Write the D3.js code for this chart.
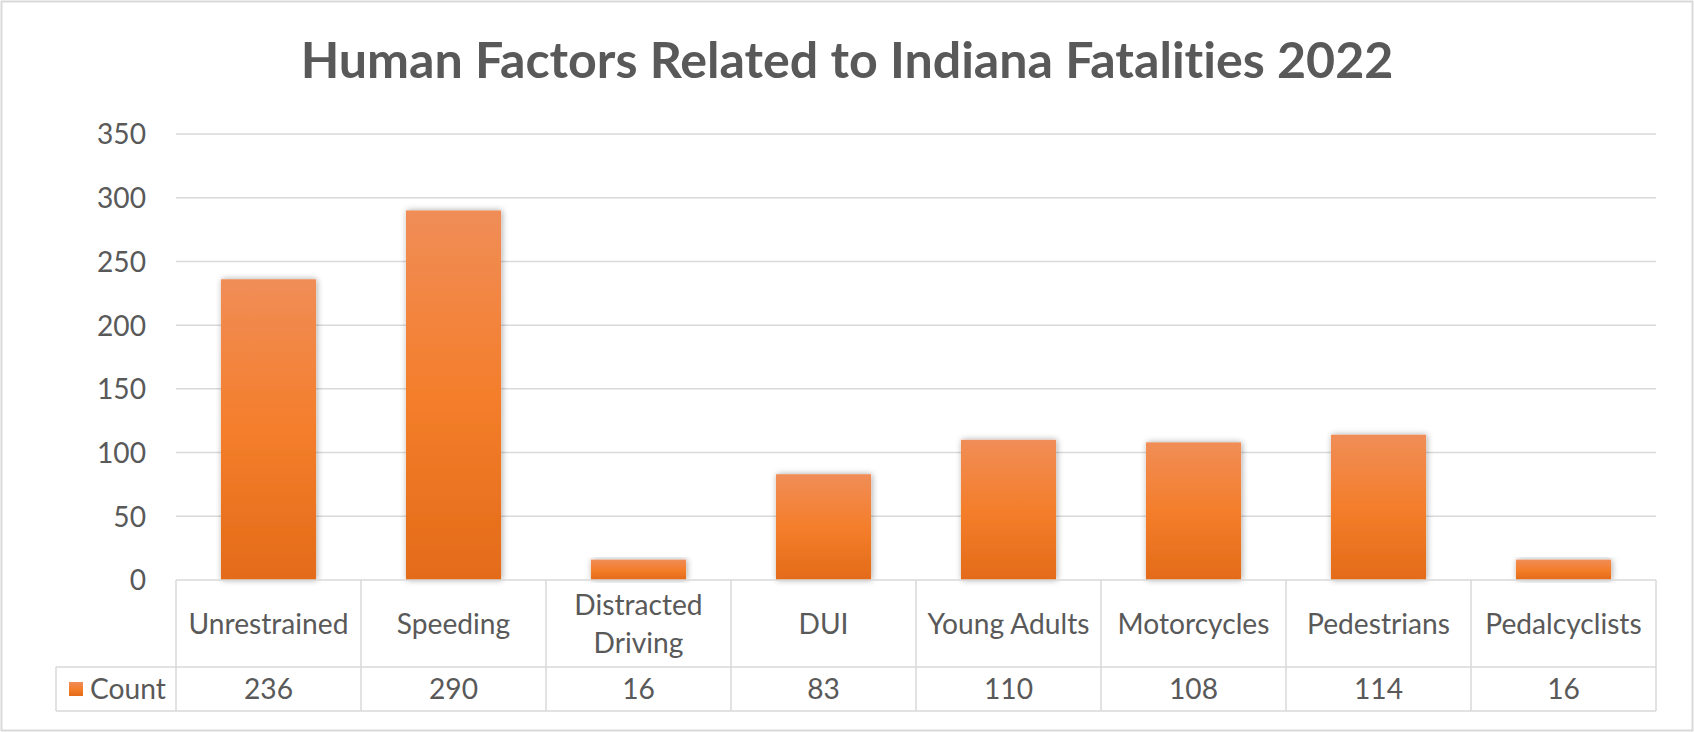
<!DOCTYPE html>
<html>
<head>
<meta charset="utf-8">
<script src="https://cdn.jsdelivr.net/npm/d3@7"></script>
<style>
  html, body { margin: 0; padding: 0; background: #fff; }
  svg { display: block; }
  text { font-family: Lato, "Open Sans", sans-serif; fill: #595959; font-variant-ligatures: none; font-feature-settings: "liga" 0; }
</style>
</head>
<body>
<svg id="chart" width="1694" height="732"></svg>
<script>
// ---- data ----
const title = "Human Factors Related to Indiana Fatalities 2022";
const categories = ["Unrestrained", "Speeding", "Distracted Driving", "DUI", "Young Adults", "Motorcycles", "Pedestrians", "Pedalcyclists"];
const categoryLines = [["Unrestrained"], ["Speeding"], ["Distracted", "Driving"], ["DUI"], ["Young Adults"], ["Motorcycles"], ["Pedestrians"], ["Pedalcyclists"]];
const seriesName = "Count";
const counts = [236, 290, 16, 83, 110, 108, 114, 16];
const yTicks = [0, 50, 100, 150, 200, 250, 300, 350];

// ---- layout ----
const W = 1694, H = 732;
const plotLeft = 176, plotRight = 1656, plotTop = 134, plotBottom = 580;
const rowSplit = 667, tableBottom = 711, legendLeft = 56;
const lineColor = "#d9d9d9";

const svg = d3.select("#chart");

// gradient + shadow
const defs = svg.append("defs");
const grad = defs.append("linearGradient").attr("id", "barGrad").attr("x1", 0).attr("y1", 0).attr("x2", 0).attr("y2", 1);
grad.append("stop").attr("offset", "0%").attr("stop-color", "#f08d57");
grad.append("stop").attr("offset", "50%").attr("stop-color", "#f47e2b");
grad.append("stop").attr("offset", "100%").attr("stop-color", "#e36b19");
const f = defs.append("filter").attr("id", "shadow").attr("x", "-30%").attr("y", "-10%").attr("width", "160%").attr("height", "120%");
f.append("feDropShadow").attr("dx", 1).attr("dy", 0).attr("stdDeviation", 3).attr("flood-color", "#000").attr("flood-opacity", 0.35);

// outer frame
svg.append("rect").attr("x", 1.5).attr("y", 1.5).attr("width", W - 3).attr("height", H - 3)
  .attr("fill", "#fff").attr("stroke", lineColor).attr("stroke-width", 2);

// font fitting helper
function fitSize(str, weight, target) {
  const t = svg.append("text").attr("font-size", 100).attr("font-weight", weight).text(str);
  const w = t.node().getComputedTextLength();
  t.remove();
  return 100 * target / w;
}
const titleSize = fitSize(title, "bold", 1093);
const labelSize = fitSize("Unrestrained", "normal", 160);

// title
svg.append("text").attr("x", W / 2).attr("y", 78).attr("text-anchor", "middle")
  .attr("font-size", titleSize).attr("font-weight", "bold").text(title);

// scales
const y = d3.scaleLinear().domain([0, 350]).range([plotBottom, plotTop]);
const xCol = d3.scaleBand().domain(categories).range([plotLeft, plotRight]).padding(0);
const xBar = d3.scaleBand().domain(categories).range([plotLeft, plotRight]).paddingInner(0.486).paddingOuter(0.243);

// gridlines
svg.append("g").selectAll("line").data(yTicks.filter(d => d > 0)).join("line")
  .attr("x1", plotLeft).attr("x2", plotRight)
  .attr("y1", d => y(d)).attr("y2", d => y(d))
  .attr("stroke", lineColor).attr("stroke-width", 1.5);

// y axis labels
const yAxis = d3.axisLeft(y).tickValues(yTicks).tickSize(0).tickPadding(0);
const ya = svg.append("g").attr("transform", `translate(146,0)`).call(yAxis);
ya.select(".domain").remove();
ya.selectAll("text").attr("font-size", labelSize).attr("fill", "#595959")
  .style("font-family", "Lato, 'Open Sans', sans-serif").attr("dy", "0.35em");

// bars
svg.append("g").selectAll("rect").data(categories).join("rect")
  .attr("x", d => xBar(d)).attr("width", xBar.bandwidth())
  .attr("y", (d, i) => y(counts[i])).attr("height", (d, i) => y(0) - y(counts[i]))
  .attr("fill", "url(#barGrad)").attr("filter", "url(#shadow)");

// data table
const tbl = svg.append("g").attr("stroke", lineColor).attr("stroke-width", 1.5);
tbl.append("line").attr("x1", plotLeft).attr("x2", plotRight).attr("y1", plotBottom).attr("y2", plotBottom);
tbl.append("line").attr("x1", legendLeft).attr("x2", plotRight).attr("y1", rowSplit).attr("y2", rowSplit);
tbl.append("line").attr("x1", legendLeft).attr("x2", plotRight).attr("y1", tableBottom).attr("y2", tableBottom);
tbl.append("line").attr("x1", legendLeft).attr("x2", legendLeft).attr("y1", rowSplit).attr("y2", tableBottom);
const bounds = categories.map(c => xCol(c)).concat([plotRight]);
tbl.selectAll("line.v").data(bounds).join("line").attr("class", "v")
  .attr("x1", d => d).attr("x2", d => d).attr("y1", plotBottom).attr("y2", tableBottom);

// category labels
const catG = svg.append("g");
categories.forEach((c, i) => {
  const lines = categoryLines[i];
  const cx = xCol(c) + xCol.bandwidth() / 2;
  const midY = (plotBottom + rowSplit) / 2 + 1;
  const lh = 38;
  lines.forEach((ln, j) => {
    catG.append("text").attr("x", cx)
      .attr("y", midY + (j - (lines.length - 1) / 2) * lh)
      .attr("dy", "0.35em").attr("text-anchor", "middle")
      .attr("font-size", labelSize).text(ln);
  });
});

// values row
const rowMid = (rowSplit + tableBottom) / 2;
svg.append("g").selectAll("text").data(categories).join("text")
  .attr("x", d => xCol(d) + xCol.bandwidth() / 2).attr("y", rowMid).attr("dy", "0.35em")
  .attr("text-anchor", "middle").attr("font-size", labelSize)
  .text((d, i) => counts[i]);

// legend key
svg.append("rect").attr("x", 69).attr("y", rowMid - 7).attr("width", 14).attr("height", 14).attr("fill", "url(#barGrad)");
svg.append("text").attr("x", 90).attr("y", rowMid).attr("dy", "0.35em")
  .attr("font-size", labelSize).text(seriesName);
</script>
</body>
</html>
